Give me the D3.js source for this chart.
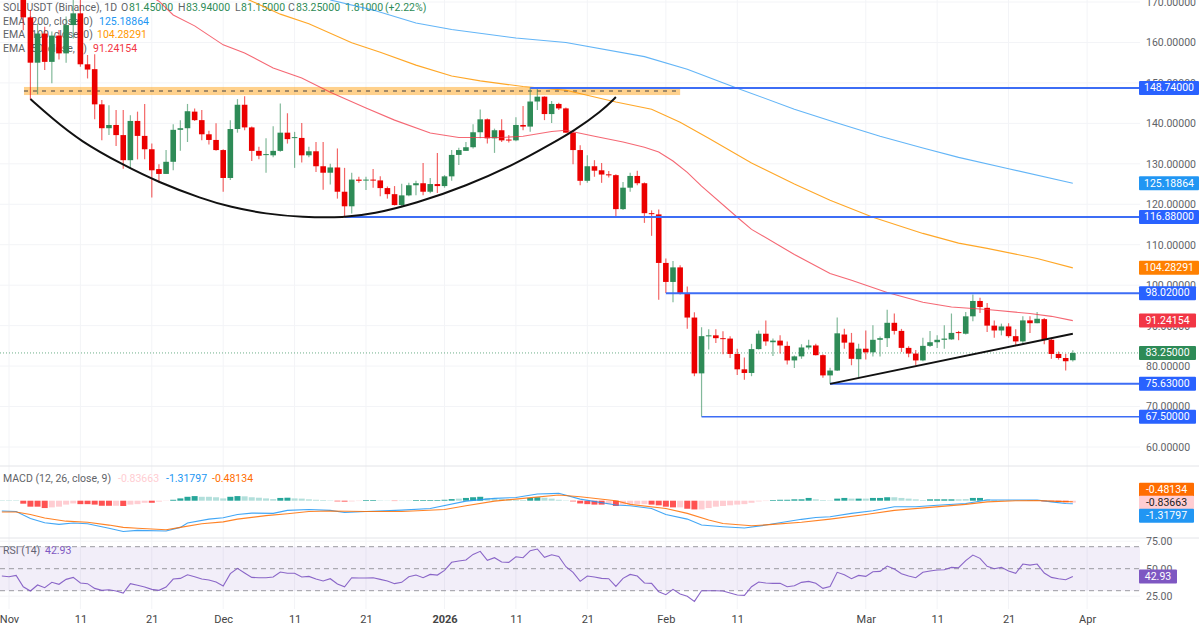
<!DOCTYPE html>
<html>
<head>
<meta charset="utf-8">
<script src="https://cdn.jsdelivr.net/npm/d3@7/dist/d3.min.js"></script>
<style>
    html, body { margin: 0; padding: 0; background: #fff; }
    svg { display: block; font-family: Roboto, "Noto Sans", sans-serif; }
</style>
</head>
<body>
<svg id="chart"></svg>
<script>
// days are counted from 1 Nov 2025, first candle is day 2
const firstDay = 2;

const candleOpen = [
    176, 166.2, 155, 162.2, 155.2, 161.7, 157.3, 164.3, 167.2, 154.6,
    153.4, 144.7, 138.8, 139.6, 137.1, 130.9, 140.6, 136.9, 133.6, 128.7,
    127.5, 130.5, 138.4, 138.8, 142.9, 140.8, 137.3, 135.9, 133.4, 126.5,
    138.6, 144.6, 139, 133.2, 132.2, 132.1, 133.2, 137.7, 136.4, 136.4,
    132.1, 133.1, 129.4, 127.8, 129.1, 123.1, 119.5, 126.1, 126, 126.1,
    125.9, 124, 122.5, 119.8, 122.2, 124.7, 125.2, 123.1, 125, 124.5,
    126.9, 132.2, 133.2, 134.1, 137.8, 141, 136.3, 138.3, 136, 135.8,
    139.6, 139.2, 145.4, 146.6, 142.3, 144.8, 143.7, 137.7, 133.4, 125.8,
    129.4, 128.4, 127.4, 127.2, 118.8, 124.1, 127, 125.2, 117.8, 117.5,
    105.5, 100.8, 104.4, 97.9, 92, 78.2, 87.4, 87.6, 86.9, 86.8,
    83, 79.2, 78.3, 84.2, 88, 85.9, 86.3, 85, 81.4, 82.4,
    84.6, 85.1, 82.7, 77.7, 78.9, 87.8, 85.8, 81.7, 84.3, 83.4,
    86.5, 86.9, 90.7, 88.7, 84.5, 83.1, 81.4, 85, 85.9, 86.5,
    86.6, 88.4, 88, 92.3, 96.1, 94.4, 90, 88.8, 89.8, 87.4,
    86.1, 91.3, 90.6, 91.6, 86.5, 83, 82, 81.45
];
const candleClose = [
    166.2, 155, 162.2, 155.2, 161.7, 157.3, 164.3, 167.2, 154.6, 153.3,
    144.7, 138.8, 139.6, 137.1, 130.9, 140.6, 136.9, 133.6, 128.4, 127.5,
    130.5, 138.4, 138.8, 143, 140.8, 137.3, 135.9, 133.4, 126.5, 138.6,
    144.6, 139, 133.2, 132, 132.4, 133.2, 137.7, 136.1, 136.6, 132.1,
    133.1, 129.4, 127.8, 129.1, 123.1, 119.5, 126.1, 125.8, 126.1, 125.9,
    124, 122.5, 119.8, 122.2, 124.7, 125.2, 123.1, 125, 124.5, 126.9,
    132.2, 133.4, 134.1, 137.8, 141, 136.3, 138.3, 135.8, 135.8, 139.6,
    139.2, 145.4, 146.6, 142.3, 144.8, 143.7, 137.7, 133.4, 125.8, 129.4,
    128.3, 127.35, 127.2, 118.8, 124.1, 127, 125.2, 117.8, 117.6, 105.5,
    100.8, 104.4, 97.9, 92, 78.2, 87.4, 87.6, 86.9, 86.8, 83,
    79.2, 78.3, 84.2, 88, 86.1, 86.3, 85.1, 81.4, 82.4, 84.6,
    85.1, 82.7, 77.7, 78.9, 88.1, 85.8, 81.8, 84.3, 83.4, 86.5,
    86.9, 90.7, 88.7, 84.5, 83.1, 81.4, 85, 85.9, 86.5, 86.8,
    88.2, 88.2, 92.3, 96.1, 94.6, 90, 88.8, 89.8, 87.4, 86.1,
    91.3, 90.6, 91.7, 86.5, 83, 82, 81.2, 83.25
];
const candleHigh = [
    178, 168, 164.7, 163.9, 162.7, 163.1, 166.4, 171, 171, 156.9,
    157.1, 145.8, 144.5, 143.3, 143.3, 142, 142.9, 144.8, 135, 129.9,
    133.4, 139.8, 140.8, 144.8, 143.7, 143.3, 138.2, 140, 133.6, 140.8,
    146, 146.7, 139.2, 134.2, 136.3, 139.3, 144.9, 142.5, 137.9, 140.1,
    134.2, 135.4, 135.4, 130, 133.8, 129, 127.8, 126.8, 126.8, 128.7,
    126.9, 124.4, 124.5, 125.1, 125.3, 125.8, 130.2, 126.5, 132.7, 127.2,
    133.4, 134, 135.4, 139.8, 143.4, 141.2, 138.7, 141, 137.1, 141.5,
    144.3, 148.9, 148.6, 146.7, 145.5, 145.1, 143.9, 138.3, 134.6, 132.1,
    130.9, 130.2, 128.2, 127.4, 125.5, 127.8, 128.3, 125.4, 118.5, 118.7,
    106.6, 106, 104.9, 99.7, 93.3, 89.6, 89.1, 89.1, 88.6, 87.4,
    84.3, 82.1, 85.5, 88.8, 91.3, 86.8, 87.6, 86.1, 82.6, 85.4,
    86.5, 85.5, 82.9, 79.6, 92, 89.2, 88.2, 85.5, 88.8, 90.1,
    87.3, 93.9, 93, 89.2, 84.9, 84, 87, 88.7, 87.6, 90.1,
    93, 88.7, 93.4, 97.7, 96.9, 95.6, 91.3, 90.5, 90.6, 89.1,
    92.3, 92.3, 93.4, 91.9, 87, 83.6, 83.05, 83.94
];
const candleLow = [
    163, 145.9, 147.2, 153.2, 149.9, 155.8, 155, 161, 154, 151.1,
    141, 135.8, 137.1, 134.4, 128.8, 128.8, 131.1, 131.1, 121.7, 125.3,
    127.5, 128.4, 133.2, 135.4, 140.6, 135.8, 134.8, 133.2, 123.1, 126,
    137.7, 138.3, 130.7, 131.1, 127.8, 131.6, 133, 135, 129, 130.3,
    131.6, 128, 123.6, 124.9, 121.4, 116.9, 117.7, 125.3, 123.5, 124.1,
    122, 121.4, 119.7, 119.2, 122, 122.2, 122.2, 122.7, 122.8, 124.1,
    125.8, 129.7, 133.2, 133.8, 136.3, 135, 132.7, 135.4, 135.3, 135.6,
    138.3, 137.9, 143.3, 140.8, 140.1, 143.3, 137.7, 129.9, 124.7, 125.3,
    126.8, 125.3, 126.6, 117, 118.6, 123.1, 124.7, 115.4, 112.2, 96.4,
    98.07, 95.8, 97.7, 89.2, 77.5, 67.5, 84.1, 85.7, 82.9, 82,
    77.8, 76.6, 77.5, 84.1, 85, 82.5, 83.1, 80.4, 79.5, 81.8,
    84.1, 82.6, 77.1, 75.63, 78.8, 84.3, 80.2, 77.3, 81.6, 82.4,
    82.4, 84.7, 87.8, 83.5, 82.2, 80.2, 81.2, 84.7, 84.5, 84.3,
    86.5, 86.4, 87.8, 91.1, 93.1, 88.4, 87, 87.6, 87, 84.9,
    85.4, 88.2, 90.6, 85.4, 81.8, 81.6, 78.9, 81.15
];

// EMA lines: [day, price]
const ema200 = [[45, 170.5], [51, 168], [57, 164.8], [62, 163.2], [71, 161.1], [78, 160], [89, 156.5], [95, 153.4], [102, 148.7], [110, 143.5], [116, 140.1], [122, 136.8], [128, 133.9], [133, 131.6], [140, 128.8], [149, 125.19]];
const ema100 = [[33, 171], [38, 167], [42, 164.6], [48, 159.9], [52, 157.6], [57, 154.4], [62, 151.7], [66, 150.5], [72, 149.1], [78, 148.2], [85, 145.3], [90, 143.5], [94, 140.3], [98, 136.3], [104, 130.2], [110, 125], [115, 121], [121, 116.8], [128, 112.8], [133, 110.4], [137, 109.1], [144, 106.6], [149, 104.28]];
const ema50 = [[20, 171.2], [21, 170.2], [23, 166.8], [26, 164.1], [30, 159.4], [33, 157.4], [37, 153.7], [41, 151.2], [45, 147.7], [50, 143.8], [54, 140.8], [59, 137.6], [63, 136.5], [69, 136.5], [72, 136.8], [76, 138], [78, 138.3], [82, 136.8], [86, 135.4], [89, 134.1], [91, 132.9], [93, 130.7], [95, 127.9], [97, 124.5], [102, 116.8], [104, 113.8], [110, 107.6], [115, 102.9], [118, 101.2], [123, 98.2], [128, 95.8], [132, 94.6], [137, 94], [143, 93], [146, 92.3], [149, 91.24]];

// hand drawn marks
const bowlCurve = [[3, 146], [6, 141.3], [10, 135.6], [16, 129.7], [21, 125.4], [27, 121.4], [31, 119.3], [36, 117.6], [41, 116.8], [47, 116.7], [51, 117.6], [57, 120.2], [64, 124.5], [71, 130], [76, 135], [79, 138], [83, 143], [85, 146.5]];
const trendLine = [[115, 75.6], [149, 88]];
const levelPrices = [148.74, 116.88, 98.02, 75.63, 67.5];
const levelStartDays = [73, 47, 92, 115, 97];
const zonePrices = [149, 147];
const zoneDays = [2.1, 94];
const zoneMid = 148;

const priceTicks = [170, 160, 150, 140, 130, 120, 110, 100, 90, 80, 70, 60];
const rsiTicks = [75, 50, 25];
const rsiBands = [70, 50, 30];

const timeTickDays = [0, 10, 20, 30, 40, 50, 61, 71, 81, 92, 102, 120, 130, 140, 151];
const timeTickLabels = ["Nov", "11", "21", "Dec", "11", "21", "2026", "11", "21", "Feb", "11", "Mar", "11", "21", "Apr"];

// MACD pane
const macdLine = [[-1, -4.5], [1, -4.7], [3, -7.7], [5, -9.6], [7, -10.3], [9, -9.7], [11, -10], [14, -12], [16, -13.4], [18, -12.9], [22, -13.2], [24, -11.6], [25, -9.7], [28, -8], [30, -7.4], [32, -6], [34, -5.4], [37, -5.5], [39, -4.2], [42, -3.8], [45, -4.2], [47, -5.1], [50, -4.7], [55, -4.1], [59, -3.4], [64, -0.2], [68, 1], [71, 1.4], [74, 2.9], [77, 3.2], [80, 0.7], [85, -1.9], [87, -2.2], [90, -3.4], [92, -6], [95, -8], [97, -10.6], [100, -11.3], [103, -11.9], [106, -10.6], [111, -8.1], [113, -7.3], [115, -7], [118, -5.5], [121, -4.4], [124, -2.6], [127, -2.6], [130, -2], [134, -1.2], [137, 0.3], [140, 0.3], [144, 0.3], [146, -0.5], [148, -1.2], [149, -1.32]];
const macdSignal = [[-1, -4.9], [1, -4.9], [3, -6], [5, -7.5], [8, -8.9], [11, -9.4], [14, -10.6], [16, -11.6], [18, -12], [22, -12.6], [24, -11.6], [27, -10], [30, -9.2], [32, -8], [36, -6.5], [39, -5.7], [42, -4.7], [45, -4.5], [50, -4.7], [55, -4.7], [61, -3.8], [64, -2.2], [68, -0.2], [72, 1], [77, 2.5], [80, 1.7], [85, 0], [87, -1.6], [92, -3.4], [95, -5.5], [98, -8.4], [100, -9.9], [104, -10.9], [107, -10.3], [111, -9.4], [115, -8], [120, -6], [124, -4.2], [129, -2.9], [134, -1.6], [137, -0.5], [141, 0], [144, 0.1], [147, -0.3], [149, -0.48]];
// histogram starts at day -1, strong = darker bar
const macdHist = [
    0.2, 0.2, 0.2,
    -1.3, -2.6, -2.6, -3.2, -2.9, -2.6, -1.7, -1.2, -1.5, -1.5,
    -1.7, -2.2, -2.2, -2.2, -2.3, -1.7, -1.5, -0.9, -0.9, -0.4,
    -0.1, 0.4, 1, 1.7, 2, 1.7, 1.7, 1.5, 1, 1.7,
    2, 1.9, 1.5, 1.3, 1, 0.7, 1.2, 1.3, 1, 0.9,
    0.6, 0.4, 0.3, 0.15, -0.3, -0.4, -0.3, -0.15, 0.3, 0.3,
    0.15, 0.1, -0.15, 0.15, 0.15, 0.3, 0.3, 0.3, 0.3, 0.4,
    0.7, 0.9, 1.2, 1.5, 1.7, 1.2, 0.9, 0.7, 0.6, 0.4,
    0.3, 1.2, 1.5, 1.3, 0.9, 0.4, 0.15, -0.3, -1.2, -1.5,
    -1.7, -1.7, -1.5, -2.3, -1.7, -1.5, -1.5, -1.5, -1.7, -2,
    -2.6, -2.9, -2.9, -3.5, -3.8, -3.8, -3.2, -2.6, -2.3, -2,
    -1.7, -1.5, -0.9, -0.3, -0.15, 0.3, 0.4, 0.4, 0.6, 0.6,
    1.2, 0.6, 0.3, 0.15, 0.9, 1.2, 0.9, 0.9, 0.9, 1.2,
    1.2, 1.5, 1.5, 1.2, 0.9, 0.6, 0.3, 0.6, 0.6, 0.6,
    0.6, 0.6, 0.7, 1.2, 1.2, 0.6, 0.3, 0.15, 0.15, 0.15,
    0.1, 0.1, 0.05, -0.3, -0.4, -0.6, -0.7, -0.84
];
const macdHistStrong = [
    0, 0, 0,
    1, 1, 1, 1, 0, 0, 0, 0, 1, 1,
    1, 1, 1, 0, 1, 0, 0, 0, 1, 0,
    0, 1, 1, 1, 1, 0, 0, 0, 0, 1,
    1, 0, 0, 0, 0, 0, 1, 1, 0, 0,
    0, 0, 0, 0, 1, 1, 0, 0, 1, 1,
    0, 0, 1, 0, 0, 1, 1, 1, 1, 1,
    1, 0, 1, 1, 1, 0, 0, 0, 0, 0,
    0, 1, 1, 0, 0, 0, 0, 1, 1, 1,
    1, 1, 0, 1, 0, 0, 0, 0, 1, 1,
    1, 1, 0, 1, 1, 0, 0, 0, 0, 0,
    0, 0, 0, 0, 0, 1, 1, 1, 1, 1,
    1, 0, 0, 0, 1, 1, 0, 1, 0, 1,
    1, 1, 0, 0, 0, 0, 0, 1, 1, 1,
    1, 0, 0, 1, 1, 0, 0, 0, 0, 0,
    0, 1, 0, 1, 1, 1, 1, 0
];

// RSI starts at day -1
const rsiValues = [
    43.3, 42.7, 43.9, 33.6, 29.7, 35.2, 32.7, 37.6, 35.8, 40.3,
    42.1, 37, 36.4, 32.1, 30.3, 30.9, 29.7, 27.9, 36.4, 34.9,
    33.3, 31.2, 30.3, 33.3, 40.6, 41.2, 44.5, 42.7, 40.6, 39.7,
    37.9, 34.2, 45.5, 50.3, 46.1, 42.1, 41.8, 41.8, 42.4, 47,
    45.8, 45.8, 42.4, 43, 40.6, 38.8, 40.9, 36.1, 33.6, 41.8,
    41.5, 41.5, 41.8, 40.3, 38.8, 36.4, 37.6, 42.7, 44.2, 41.8,
    44.8, 44.2, 48.5, 55.8, 57, 57.9, 63, 65.8, 57.6, 60,
    56.1, 55.8, 60.9, 60, 66.4, 67.9, 60.3, 62.7, 61.2, 51.8,
    46.7, 38.5, 43.3, 42.4, 41.2, 40.9, 33.9, 41.2, 44.8, 43.3,
    37, 36.7, 29.1, 26.4, 31.2, 27, 24.9, 20.3, 30, 30,
    30, 29.7, 27.9, 26.1, 25.8, 33.6, 37.9, 37, 36.7, 36.7,
    33.6, 34.5, 37.6, 38.5, 36.7, 32.1, 33.9, 46.7, 44.5, 40.9,
    43.9, 43, 47.3, 47.6, 52.4, 49.7, 45.5, 43.3, 41.8, 46.7,
    47.9, 48.8, 49.1, 51.2, 50.9, 57.3, 62.4, 59.4, 52.1, 50,
    51.2, 47.9, 45.8, 54.2, 53.3, 54.2, 46.1, 42.1, 40.9, 40, 42.93
];

const width = 1199;
const height = 629;
const axisX = 1140;
const bodyWidth = 5.6;
const fontSize = 10.5;

const upColor = "#2E8B57";
const downColor = "#EB0000";
const levelColor = "#3D6DF5";
const textColor = "#5f6368";

let svg = d3.select("#chart")
    .attr("width", width)
    .attr("height", height);

let scaleX = d3.scaleLinear().domain([0, 151]).range([9, 1087.1]);
let scaleY = d3.scaleLinear().domain([170, 60]).range([2, 447]);
let scaleMacd = d3.scaleLinear().domain([0, -10]).range([500.7, 523.7]);
let scaleRsi = d3.scaleLinear().domain([70, 30]).range([546.7, 590.7]);

svg.append("clipPath").attr("id", "mainClip")
    .append("rect").attr("width", axisX).attr("height", 466);
svg.append("clipPath").attr("id", "macdClip")
    .append("rect").attr("y", 467).attr("width", axisX).attr("height", 71);

// grid
let grid = svg.append("g").attr("stroke", "#f3f4f7").attr("stroke-width", 1);
grid.selectAll(".v")
    .data(timeTickDays)
    .enter()
    .append("line")
    .attr("x1", d => scaleX(d))
    .attr("x2", d => scaleX(d))
    .attr("y1", 0)
    .attr("y2", 609);
grid.selectAll(".h")
    .data(priceTicks)
    .enter()
    .append("line")
    .attr("x1", 0)
    .attr("x2", axisX)
    .attr("y1", d => scaleY(d))
    .attr("y2", d => scaleY(d));
grid.selectAll(".r")
    .data([75, 25])
    .enter()
    .append("line")
    .attr("x1", 0)
    .attr("x2", axisX)
    .attr("y1", d => scaleRsi(d))
    .attr("y2", d => scaleRsi(d));

// pane separators
svg.selectAll(".sep")
    .data([466, 538])
    .enter()
    .append("line")
    .attr("x1", 0)
    .attr("x2", width)
    .attr("y1", d => d)
    .attr("y2", d => d)
    .attr("stroke", "#e3e4e8")
    .attr("stroke-width", 1);

// legend goes under the candles, as on the original
function legendText(parent, x, y, text, color) {
    parent.append("text")
        .attr("x", x)
        .attr("y", y)
        .attr("font-size", fontSize)
        .attr("dominant-baseline", "middle")
        .attr("fill", color)
        .text(text);
}
let legend = svg.append("g");
legendText(legend, 3, 8, "SOL/USDT (Binance), 1D", textColor);
legendText(legend, 121, 8, "O", textColor);
legendText(legend, 129, 8, "81.45000", upColor);
legendText(legend, 178, 8, "H", textColor);
legendText(legend, 186, 8, "83.94000", upColor);
legendText(legend, 235, 8, "L", textColor);
legendText(legend, 241, 8, "81.15000", upColor);
legendText(legend, 288, 8, "C", textColor);
legendText(legend, 296, 8, "83.25000", upColor);
legendText(legend, 345, 8, "1.81000", upColor);
legendText(legend, 385, 8, "(+2.22%)", upColor);
legendText(legend, 3, 22, "EMA (200, close, 0)", textColor);
legendText(legend, 99, 22, "125.18864", "#2196F3");
legendText(legend, 3, 35.5, "EMA (100, close, 0)", textColor);
legendText(legend, 97, 35.5, "104.28291", "#FF9800");
legendText(legend, 3, 49.5, "EMA (50, close, 0)", textColor);
legendText(legend, 93, 49.5, "91.24154", "#F23645");
legendText(legend, 3, 479.5, "MACD (12, 26, close, 9)", textColor);
legendText(legend, 118, 479.5, "-0.83663", "#FFCDD2");
legendText(legend, 166, 479.5, "-1.31797", "#2196F3");
legendText(legend, 212, 479.5, "-0.48134", "#FF6D00");
legendText(legend, 3, 551, "RSI (14)", textColor);
legendText(legend, 45, 551, "42.93", "#7E57C2");

let main = svg.append("g").attr("clip-path", "url(#mainClip)");

// supply zone
main.append("rect")
    .attr("x", scaleX(zoneDays[0]))
    .attr("width", scaleX(zoneDays[1]) - scaleX(zoneDays[0]))
    .attr("y", scaleY(zonePrices[0]))
    .attr("height", scaleY(zonePrices[1]) - scaleY(zonePrices[0]))
    .attr("fill", "#FF9800")
    .attr("fill-opacity", 0.45);
main.append("line")
    .attr("x1", scaleX(zoneDays[0]))
    .attr("x2", scaleX(zoneDays[1]))
    .attr("y1", scaleY(zoneMid))
    .attr("y2", scaleY(zoneMid))
    .attr("stroke", "#444")
    .attr("stroke-dasharray", "4 5");

// last price line
main.append("line")
    .attr("x1", 0)
    .attr("x2", axisX)
    .attr("y1", scaleY(candleClose[candleClose.length - 1]))
    .attr("y2", scaleY(candleClose[candleClose.length - 1]))
    .attr("stroke", upColor)
    .attr("stroke-opacity", 0.7)
    .attr("stroke-dasharray", "1 2");

let lineGen = d3.line()
    .x(d => scaleX(d[0]))
    .y(d => scaleY(d[1]));

function drawLine(parent, gen, data, color, w, op) {
    parent.append("path")
        .attr("d", gen(data))
        .attr("fill", "none")
        .attr("stroke", color)
        .attr("stroke-width", w)
        .attr("stroke-opacity", op);
}

// candles
let candles = candleOpen.map((o, i) => ({
    day: firstDay + i,
    open: o,
    close: candleClose[i],
    high: candleHigh[i],
    low: candleLow[i]
}));
main.selectAll(".wick")
    .data(candles)
    .enter()
    .append("line")
    .attr("x1", d => scaleX(d.day))
    .attr("x2", d => scaleX(d.day))
    .attr("y1", d => scaleY(d.high))
    .attr("y2", d => scaleY(d.low))
    .attr("stroke", d => d.close >= d.open ? upColor : downColor)
    .attr("stroke-opacity", 0.6)
    .attr("stroke-width", 1.2);
main.selectAll(".body")
    .data(candles)
    .enter()
    .append("rect")
    .attr("x", d => scaleX(d.day) - bodyWidth / 2)
    .attr("width", bodyWidth)
    .attr("y", d => scaleY(Math.max(d.open, d.close)))
    .attr("height", d => Math.max(1, Math.abs(scaleY(d.open) - scaleY(d.close))))
    .attr("fill", d => d.close >= d.open ? upColor : downColor);

drawLine(main, lineGen, ema200, "#2196F3", 1.1, 0.7);
drawLine(main, lineGen, ema100, "#FF9800", 1.1, 0.85);
drawLine(main, lineGen, ema50, "#F23645", 1.1, 0.75);

// horizontal levels
main.selectAll(".level")
    .data(levelPrices)
    .enter()
    .append("line")
    .attr("x1", (d, i) => scaleX(levelStartDays[i]))
    .attr("x2", axisX)
    .attr("y1", d => scaleY(d))
    .attr("y2", d => scaleY(d))
    .attr("stroke", levelColor)
    .attr("stroke-width", (d, i) => i == 4 ? 1.5 : 2);

// bowl and trend line
drawLine(main, lineGen.curve(d3.curveBasis), bowlCurve, "#111", 2, 1);
lineGen.curve(d3.curveLinear);
drawLine(main, lineGen, trendLine, "#111", 2, 1);

// MACD pane
let macdPane = svg.append("g").attr("clip-path", "url(#macdClip)");
macdPane.selectAll(".hist")
    .data(macdHist)
    .enter()
    .append("rect")
    .attr("x", (d, i) => scaleX(i - 1) - 3)
    .attr("width", 6)
    .attr("y", d => Math.min(scaleMacd(d), scaleMacd(0)))
    .attr("height", d => Math.abs(scaleMacd(d) - scaleMacd(0)))
    .attr("fill", (d, i) => {
        if (d >= 0) return macdHistStrong[i] ? "#26A69A" : "#B2DFDB";
        return macdHistStrong[i] ? "#FF5252" : "#FFCDD2";
    });

let macdGen = d3.line()
    .x(d => scaleX(d[0]))
    .y(d => scaleMacd(d[1]));
drawLine(macdPane, macdGen, macdLine, "#2196F3", 1.1, 0.85);
drawLine(macdPane, macdGen, macdSignal, "#FF6D00", 1.1, 0.85);

// RSI pane
svg.append("rect")
    .attr("x", 0)
    .attr("width", axisX)
    .attr("y", scaleRsi(70))
    .attr("height", scaleRsi(30) - scaleRsi(70))
    .attr("fill", "#7E57C2")
    .attr("fill-opacity", 0.1);
svg.selectAll(".band")
    .data(rsiBands)
    .enter()
    .append("line")
    .attr("x1", 0)
    .attr("x2", axisX)
    .attr("y1", d => scaleRsi(d))
    .attr("y2", d => scaleRsi(d))
    .attr("stroke", "#9a9ba0")
    .attr("stroke-dasharray", "5 4");
let rsiGen = d3.line()
    .x((d, i) => scaleX(i - 1))
    .y(d => scaleRsi(d));
drawLine(svg, rsiGen, rsiValues, "#7E57C2", 1.1, 0.9);

// axes
function styleAxis(g) {
    g.select(".domain").remove();
    g.selectAll("text")
        .attr("font-family", "Roboto, 'Noto Sans', sans-serif")
        .attr("font-size", fontSize)
        .attr("fill", textColor);
}
let priceAxis = d3.axisRight(scaleY)
    .tickValues(priceTicks)
    .tickSize(0)
    .tickPadding(0)
    .tickFormat(d => d.toFixed(5));
svg.append("g")
    .attr("transform", "translate(1146, 0)")
    .call(priceAxis)
    .call(styleAxis);

let rsiAxis = d3.axisRight(scaleRsi)
    .tickValues(rsiTicks)
    .tickSize(0)
    .tickPadding(0)
    .tickFormat(d => d.toFixed(2));
svg.append("g")
    .attr("transform", "translate(1146, 0)")
    .call(rsiAxis)
    .call(styleAxis);

let timeAxis = d3.axisBottom(scaleX)
    .tickValues(timeTickDays)
    .tickSize(0)
    .tickPadding(0)
    .tickFormat((d, i) => timeTickLabels[i]);
svg.append("g")
    .attr("transform", "translate(0, 615)")
    .call(timeAxis)
    .call(styleAxis)
    .selectAll("text")
    .attr("font-size", 11)
    .attr("fill", "#444")
    .attr("font-weight", (d, i) => timeTickLabels[i] == "2026" ? 700 : 400);

// value boxes on the axis
function axisBox(y, text, fill, w, color) {
    svg.append("rect")
        .attr("x", 1139)
        .attr("y", y - 7)
        .attr("width", w)
        .attr("height", 14)
        .attr("rx", 1)
        .attr("fill", fill);
    svg.append("text")
        .attr("x", 1139 + w / 2)
        .attr("y", y + 0.5)
        .attr("text-anchor", "middle")
        .attr("dominant-baseline", "middle")
        .attr("font-size", fontSize)
        .attr("fill", color || "#fff")
        .text(text);
}
levelPrices.forEach(p => {
    let label = p.toFixed(5);
    axisBox(scaleY(p), label, "#2962FF", label.length > 8 ? 60 : 57);
});
axisBox(scaleY(125.18864), "125.18864", "#2196F3", 60);
axisBox(scaleY(104.28291), "104.28291", "#FF8000", 60);
axisBox(scaleY(91.24154), "91.24154", "#F23645", 57);
axisBox(scaleY(83.25), "83.25000", upColor, 57);
axisBox(489.7, "-0.48134", "#FF6D00", 55);
axisBox(502.7, "-0.83663", "#FFCDD2", 55, "#222");
axisBox(515.7, "-1.31797", "#2196F3", 55);
axisBox(576.5, "42.93", "#7E57C2", 38);
</script>
</body>
</html>
